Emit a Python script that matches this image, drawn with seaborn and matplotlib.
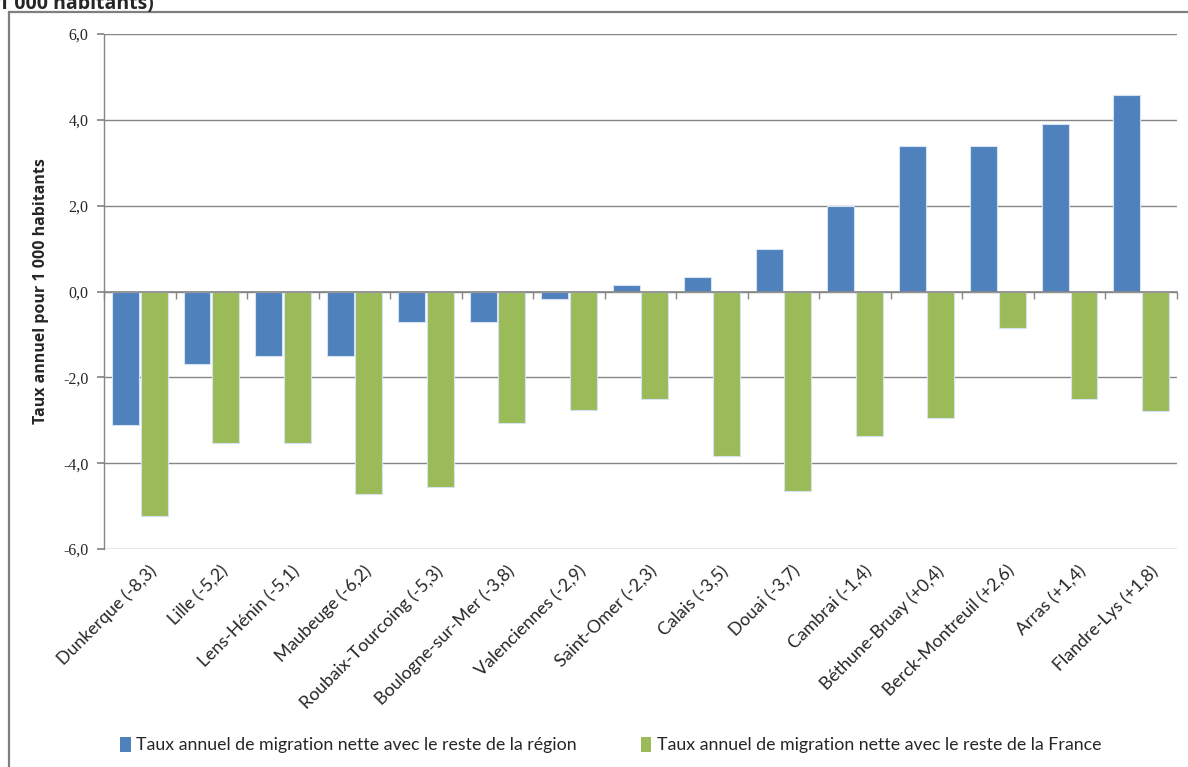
import matplotlib
matplotlib.use("Agg")
import matplotlib.pyplot as plt
import matplotlib.patches as mpatches
import seaborn as sns
import pandas as pd
import numpy as np

zones = ["Dunkerque (-8,3)", "Lille (-5,2)", "Lens-Hénin (-5,1)", "Maubeuge (-6,2)",
         "Roubaix-Tourcoing (-5,3)", "Boulogne-sur-Mer (-3,8)", "Valenciennes (-2,9)",
         "Saint-Omer (-2,3)", "Calais (-3,5)", "Douai (-3,7)", "Cambrai (-1,4)",
         "Béthune-Bruay (+0,4)", "Berck-Montreuil (+2,6)", "Arras (+1,4)", "Flandre-Lys (+1,8)"]
region = [-3.1, -1.7, -1.5, -1.5, -0.7, -0.7, -0.17, 0.15, 0.34, 1.0, 2.0, 3.4, 3.4, 3.9, 4.57]
france = [-5.23, -3.53, -3.53, -4.72, -4.55, -3.07, -2.77, -2.5, -3.84, -4.66, -3.37, -2.95, -0.84, -2.5, -2.78]
series_names = ["Taux annuel de migration nette avec le reste de la région",
                "Taux annuel de migration nette avec le reste de la France"]
yticks = [-6, -4, -2, 0, 2, 4, 6]
ylabel = "Taux annuel pour 1 000 habitants"
title_frag = "1 000 habitants)"

colors = ["#4F81BD", "#9BBB59"]
grid_col = "#868686"

df = pd.DataFrame({
    "zone": zones * 2,
    "valeur": region + france,
    "serie": [series_names[0]] * len(zones) + [series_names[1]] * len(zones),
})

sns.set_theme(style="white")
plt.rcParams["font.family"] = ["Lato", "DejaVu Sans"]

fig = plt.figure(figsize=(11.88, 7.67), dpi=100)
ax = fig.add_axes([104 / 1188, 1 - 549 / 767, (1177 - 104) / 1188, (549 - 34) / 767])

sns.barplot(data=df, x="zone", y="valeur", hue="serie", palette=colors, ax=ax,
            width=0.8, gap=0.06, edgecolor="#D6E2F0", linewidth=0.8, saturation=1,
            legend=False, errorbar=None, zorder=3)

n = len(zones)
ax.set_xlim(-0.5, n - 0.5)
ax.set_ylim(min(yticks), max(yticks))
ax.set_yticks(yticks)
ax.set_yticklabels([f"{v:.1f}".replace(".", ",") for v in yticks],
                   fontfamily="Liberation Serif", fontsize=11.5)
ax.yaxis.grid(True, color=grid_col, linewidth=1, zorder=0)
ax.set_axisbelow(True)
ax.tick_params(axis="y", direction="out", length=5, color=grid_col, pad=6, left=True)

for s in ["top", "right"]:
    ax.spines[s].set_visible(False)
ax.spines["left"].set_color(grid_col)
ax.spines["left"].set_linewidth(1)
ax.spines["bottom"].set_position(("data", 0))
ax.spines["bottom"].set_color(grid_col)
ax.spines["bottom"].set_linewidth(1.2)
ax.spines["bottom"].set_zorder(4)

ax.set_xticks(np.arange(n))
ax.set_xticks(np.arange(n + 1) - 0.5, minor=True)
ax.tick_params(axis="x", which="major", length=0, labelbottom=False)
ax.tick_params(axis="x", which="minor", length=5, color=grid_col, direction="out", bottom=True)
ax.set_xlabel("")
ax.set_ylabel(ylabel, fontsize=11.5, fontweight="bold", labelpad=10,
              fontfamily=["Open Sans", "DejaVu Sans"])

sec = ax.secondary_xaxis(0)
sec.set_xticks(np.arange(n) + 0.12)
sec.set_xticklabels(zones, rotation=45, ha="right", rotation_mode="anchor", fontsize=12.8)
sec.tick_params(length=0, pad=10)
sec.spines["bottom"].set_visible(False)

handles = [mpatches.Patch(facecolor=c, edgecolor="none") for c in colors]
fig.legend(handles, series_names, loc="center", bbox_to_anchor=(0.514, 1 - 745 / 767),
           ncol=2, frameon=False, fontsize=12.8, handlelength=0.6, handleheight=0.9,
           handletextpad=0.3, columnspacing=3.6)

fig.add_artist(mpatches.Rectangle((9 / 1188, -0.1), 1.2, 1 - 12 / 767 + 0.1,
                                  transform=fig.transFigure, fill=False,
                                  edgecolor="#7F7F7F", linewidth=1.6))
fig.text(-0.002, 1 - 9 / 767, title_frag, fontsize=14, fontweight="bold",
         ha="left", va="baseline", fontfamily=["Open Sans", "DejaVu Sans"])

fig.savefig("out.png", dpi=100)
